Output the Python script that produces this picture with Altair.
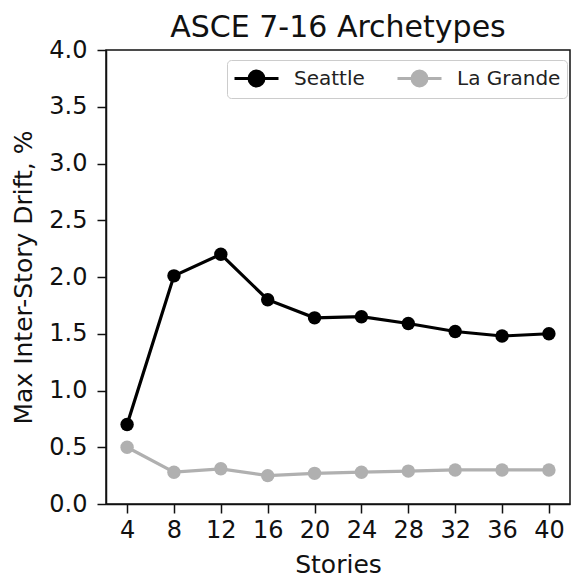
import altair as alt
import pandas as pd

stories = [4, 8, 12, 16, 20, 24, 28, 32, 36, 40]
seattle = [0.70, 2.01, 2.20, 1.80, 1.64, 1.65, 1.59, 1.52, 1.48, 1.50]
la_grande = [0.50, 0.28, 0.31, 0.25, 0.27, 0.28, 0.29, 0.30, 0.30, 0.30]
series = ["Seattle", "La Grande"]
colors = ["#000000", "#b0b0b0"]
x_ticks = [4, 8, 12, 16, 20, 24, 28, 32, 36, 40]
y_ticks = [0.0, 0.5, 1.0, 1.5, 2.0, 2.5, 3.0, 3.5, 4.0]

rows = []
for s, v in zip(stories, seattle):
    rows.append({"Stories": s, "Drift": v, "City": "Seattle"})
for s, v in zip(stories, la_grande):
    rows.append({"Stories": s, "Drift": v, "City": "La Grande"})
df = pd.DataFrame(rows)

FONT = "DejaVu Sans"

legend_path = "M-1,0L3,0M1.68,0A0.68,0.68 0 1 1 0.32,0A0.68,0.68 0 1 1 1.68,0Z"

x = alt.X("Stories:Q", scale=alt.Scale(domain=[2.2, 41.8], nice=False, zero=False),
          axis=alt.Axis(values=x_ticks, title="Stories"))
y = alt.Y("Drift:Q", scale=alt.Scale(domain=[0, 4], nice=False),
          axis=alt.Axis(values=y_ticks, format=".1f", title="Max Inter-Story Drift, %"))
color = alt.Color("City:N", scale=alt.Scale(domain=series, range=colors),
                  legend=alt.Legend(title=None, orient="none", legendX=121, legendY=10,
                                    direction="horizontal", symbolType=legend_path,
                                    symbolSize=484, symbolStrokeWidth=3,
                                    labelFontSize=20, labelFont=FONT, labelColor="#222222",
                                    labelOffset=36, columnPadding=26, padding=6,
                                    fillColor="white", strokeColor="#cccccc",
                                    cornerRadius=4))

lines = alt.Chart(df).mark_line(strokeWidth=3.2).encode(x=x, y=y, color=color, detail="City:N")
points = alt.Chart(df).mark_point(filled=True, size=180, opacity=1).encode(x=x, y=y, color=color)

chart = alt.layer(lines, points).properties(
    width=464, height=454,
    title=alt.Title("ASCE 7-16 Archetypes", font=FONT, fontSize=30, fontWeight="normal",
                    color="#111111", offset=-5),
    autosize=alt.AutoSizeParams(type="none"),
    padding={"left": 106, "top": 50, "right": 5, "bottom": 75},
).configure_view(stroke="#111111", strokeWidth=1.5).configure_axis(
    grid=False, domainColor="#111111", domainWidth=1.5, tickColor="#111111", tickWidth=1.5,
    tickSize=9, labelFont=FONT, labelFontSize=24, labelColor="#111111",
    titleFont=FONT, titleFontSize=25, titleFontWeight="normal", titleColor="#111111",
).configure_axisX(labelPadding=5, titlePadding=10, labelAngle=0).configure_axisY(
    labelPadding=10, titlePadding=12)

chart.save("out.html", embed_options={"renderer": "svg", "actions": False})
